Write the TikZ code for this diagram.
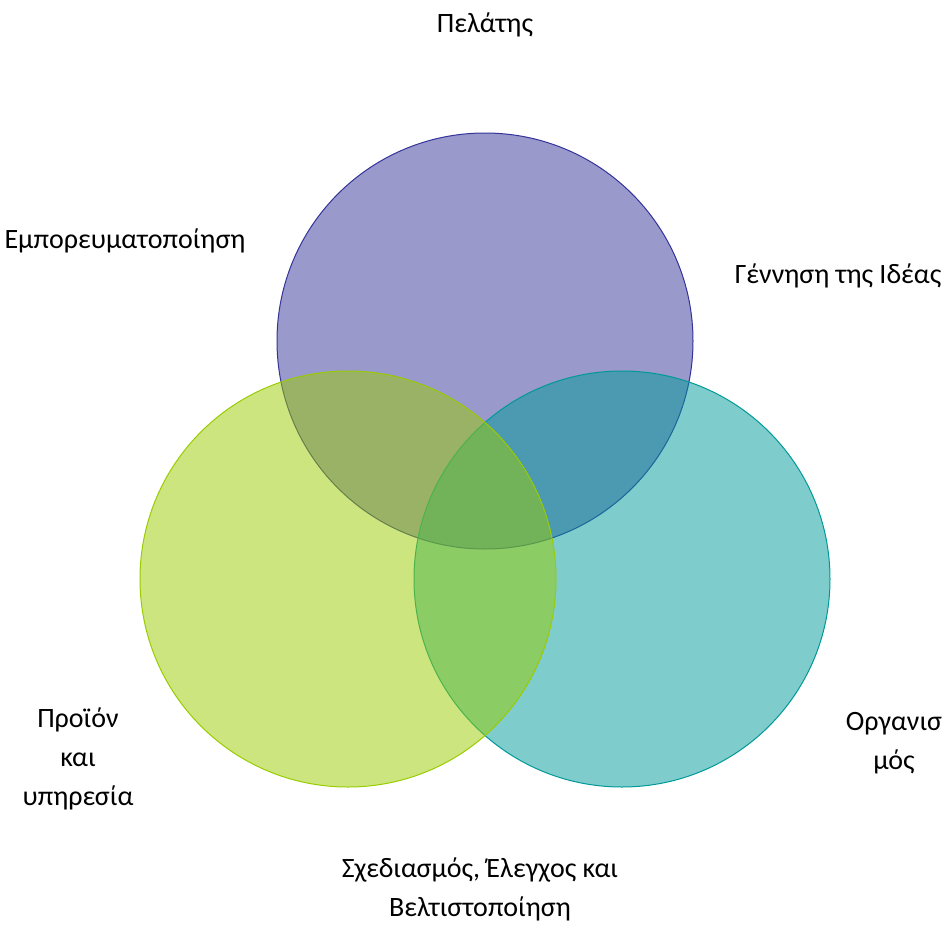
\documentclass[tikz,border=0pt]{standalone}
\usepackage{fontspec}
\setmainfont{Carlito}
\usetikzlibrary{positioning}
\definecolor{vennpurple}{HTML}{333399}
\definecolor{venngreen}{HTML}{99CC00}
\definecolor{vennteal}{HTML}{009999}

\begin{document}
\begin{tikzpicture}[x=1pt,y=-1pt,
  vennlabel/.style={font=\fontsize{28}{39}\selectfont, align=center, inner sep=0pt},
  venncircle/.style={line width=1pt, fill opacity=0.5}]

\useasboundingbox (0,0) rectangle (951,927);

\filldraw[venncircle, draw=vennpurple, fill=vennpurple] (485,341) circle (208pt);
\filldraw[venncircle, draw=vennteal, fill=vennteal] (622,579) circle (208pt);
\filldraw[venncircle, draw=venngreen, fill=venngreen] (348,579) circle (208pt);

\node[vennlabel] (client) at (485,25) {Πελάτης};
\node[vennlabel] (market) at (125,241) {Εμπορευματοποίηση};
\node[vennlabel] (idea) at (838,276) {Γέννηση της Ιδέας};
\node[vennlabel] (product) at (78,759) {Προϊόν\\και\\υπηρεσία};
\node[vennlabel] (org) at (894,743) {Οργανισ\\μός};
\node[vennlabel] (design) at (480,889) {Σχεδιασμός, Έλεγχος και\\Βελτιστοποίηση};

\end{tikzpicture}
\end{document}
